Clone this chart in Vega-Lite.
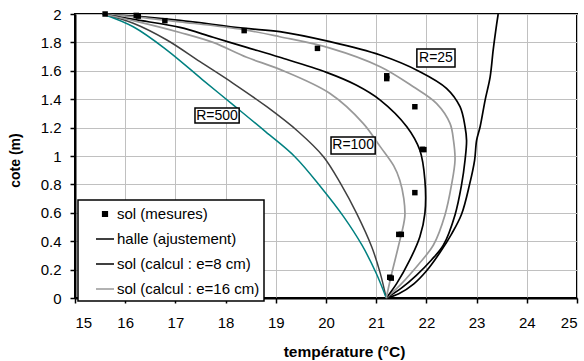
{
  "$schema": "https://vega.github.io/schema/vega-lite/v6.json",
  "width": 502,
  "height": 284,
  "autosize": {"type": "none"},
  "padding": {"left": 75, "top": 14, "right": 7, "bottom": 63},
  "background": "white",
  "config": {
    "view": {"stroke": "black", "strokeWidth": 2},
    "font": "Liberation Sans"
  },
  "datasets": {
    "curves": [
      {"c":"h","g":"halle (ajustement)","i":0,"x":21.2,"y":0},
      {"c":"h","g":"halle (ajustement)","i":1,"x":21.45,"y":0.03},
      {"c":"h","g":"halle (ajustement)","i":2,"x":21.75,"y":0.1},
      {"c":"h","g":"halle (ajustement)","i":3,"x":22.0,"y":0.19},
      {"c":"h","g":"halle (ajustement)","i":4,"x":22.27,"y":0.32},
      {"c":"h","g":"halle (ajustement)","i":5,"x":22.5,"y":0.45},
      {"c":"h","g":"halle (ajustement)","i":6,"x":22.7,"y":0.59},
      {"c":"h","g":"halle (ajustement)","i":7,"x":22.86,"y":0.8},
      {"c":"h","g":"halle (ajustement)","i":8,"x":22.96,"y":0.97},
      {"c":"h","g":"halle (ajustement)","i":9,"x":23.0,"y":1.11},
      {"c":"h","g":"halle (ajustement)","i":10,"x":23.07,"y":1.206},
      {"c":"h","g":"halle (ajustement)","i":11,"x":23.17,"y":1.394},
      {"c":"h","g":"halle (ajustement)","i":12,"x":23.27,"y":1.558},
      {"c":"h","g":"halle (ajustement)","i":13,"x":23.33,"y":1.746},
      {"c":"h","g":"halle (ajustement)","i":14,"x":23.38,"y":1.88},
      {"c":"h","g":"halle (ajustement)","i":15,"x":23.43,"y":2.0},

      {"c":"a25","g":"sol (calcul : e=8 cm)","i":0,"x":15.55,"y":2},
      {"c":"a25","g":"sol (calcul : e=8 cm)","i":1,"x":16.2,"y":1.985},
      {"c":"a25","g":"sol (calcul : e=8 cm)","i":2,"x":17.09,"y":1.955},
      {"c":"a25","g":"sol (calcul : e=8 cm)","i":3,"x":18.35,"y":1.9},
      {"c":"a25","g":"sol (calcul : e=8 cm)","i":4,"x":19.08,"y":1.876},
      {"c":"a25","g":"sol (calcul : e=8 cm)","i":5,"x":20.08,"y":1.805},
      {"c":"a25","g":"sol (calcul : e=8 cm)","i":6,"x":21.08,"y":1.711},
      {"c":"a25","g":"sol (calcul : e=8 cm)","i":7,"x":21.87,"y":1.594},
      {"c":"a25","g":"sol (calcul : e=8 cm)","i":8,"x":22.4,"y":1.477},
      {"c":"a25","g":"sol (calcul : e=8 cm)","i":9,"x":22.67,"y":1.347},
      {"c":"a25","g":"sol (calcul : e=8 cm)","i":10,"x":22.77,"y":1.206},
      {"c":"a25","g":"sol (calcul : e=8 cm)","i":11,"x":22.8,"y":1.11},
      {"c":"a25","g":"sol (calcul : e=8 cm)","i":12,"x":22.77,"y":0.972},
      {"c":"a25","g":"sol (calcul : e=8 cm)","i":13,"x":22.7,"y":0.796},
      {"c":"a25","g":"sol (calcul : e=8 cm)","i":14,"x":22.57,"y":0.585},
      {"c":"a25","g":"sol (calcul : e=8 cm)","i":15,"x":22.34,"y":0.373},
      {"c":"a25","g":"sol (calcul : e=8 cm)","i":16,"x":22.1,"y":0.268},
      {"c":"a25","g":"sol (calcul : e=8 cm)","i":17,"x":21.8,"y":0.16},
      {"c":"a25","g":"sol (calcul : e=8 cm)","i":18,"x":21.5,"y":0.07},
      {"c":"a25","g":"sol (calcul : e=8 cm)","i":19,"x":21.2,"y":0},

      {"c":"b25","g":"sol (calcul : e=16 cm)","i":0,"x":15.55,"y":2},
      {"c":"b25","g":"sol (calcul : e=16 cm)","i":1,"x":16.2,"y":1.98},
      {"c":"b25","g":"sol (calcul : e=16 cm)","i":2,"x":17.09,"y":1.945},
      {"c":"b25","g":"sol (calcul : e=16 cm)","i":3,"x":18.35,"y":1.89},
      {"c":"b25","g":"sol (calcul : e=16 cm)","i":4,"x":19.08,"y":1.84},
      {"c":"b25","g":"sol (calcul : e=16 cm)","i":5,"x":20.08,"y":1.76},
      {"c":"b25","g":"sol (calcul : e=16 cm)","i":6,"x":21.08,"y":1.629},
      {"c":"b25","g":"sol (calcul : e=16 cm)","i":7,"x":21.74,"y":1.488},
      {"c":"b25","g":"sol (calcul : e=16 cm)","i":8,"x":22.2,"y":1.371},
      {"c":"b25","g":"sol (calcul : e=16 cm)","i":9,"x":22.47,"y":1.23},
      {"c":"b25","g":"sol (calcul : e=16 cm)","i":10,"x":22.54,"y":1.11},
      {"c":"b25","g":"sol (calcul : e=16 cm)","i":11,"x":22.57,"y":0.972},
      {"c":"b25","g":"sol (calcul : e=16 cm)","i":12,"x":22.5,"y":0.796},
      {"c":"b25","g":"sol (calcul : e=16 cm)","i":13,"x":22.37,"y":0.585},
      {"c":"b25","g":"sol (calcul : e=16 cm)","i":14,"x":22.14,"y":0.373},
      {"c":"b25","g":"sol (calcul : e=16 cm)","i":15,"x":21.85,"y":0.24},
      {"c":"b25","g":"sol (calcul : e=16 cm)","i":16,"x":21.5,"y":0.1},
      {"c":"b25","g":"sol (calcul : e=16 cm)","i":17,"x":21.2,"y":0},

      {"c":"a100","g":"sol (calcul : e=8 cm)","i":0,"x":15.55,"y":2},
      {"c":"a100","g":"sol (calcul : e=8 cm)","i":1,"x":16.2,"y":1.96},
      {"c":"a100","g":"sol (calcul : e=8 cm)","i":2,"x":17.09,"y":1.906},
      {"c":"a100","g":"sol (calcul : e=8 cm)","i":3,"x":17.75,"y":1.836},
      {"c":"a100","g":"sol (calcul : e=8 cm)","i":4,"x":18.42,"y":1.765},
      {"c":"a100","g":"sol (calcul : e=8 cm)","i":5,"x":19.08,"y":1.695},
      {"c":"a100","g":"sol (calcul : e=8 cm)","i":6,"x":20.01,"y":1.589},
      {"c":"a100","g":"sol (calcul : e=8 cm)","i":7,"x":20.6,"y":1.5},
      {"c":"a100","g":"sol (calcul : e=8 cm)","i":8,"x":21.08,"y":1.394},
      {"c":"a100","g":"sol (calcul : e=8 cm)","i":9,"x":21.61,"y":1.206},
      {"c":"a100","g":"sol (calcul : e=8 cm)","i":10,"x":21.87,"y":1.04},
      {"c":"a100","g":"sol (calcul : e=8 cm)","i":11,"x":21.97,"y":0.83},
      {"c":"a100","g":"sol (calcul : e=8 cm)","i":12,"x":21.97,"y":0.596},
      {"c":"a100","g":"sol (calcul : e=8 cm)","i":13,"x":21.87,"y":0.432},
      {"c":"a100","g":"sol (calcul : e=8 cm)","i":14,"x":21.67,"y":0.268},
      {"c":"a100","g":"sol (calcul : e=8 cm)","i":15,"x":21.41,"y":0.103},
      {"c":"a100","g":"sol (calcul : e=8 cm)","i":16,"x":21.2,"y":0},

      {"c":"b100","g":"sol (calcul : e=16 cm)","i":0,"x":15.55,"y":2},
      {"c":"b100","g":"sol (calcul : e=16 cm)","i":1,"x":16.2,"y":1.95},
      {"c":"b100","g":"sol (calcul : e=16 cm)","i":2,"x":17.09,"y":1.87},
      {"c":"b100","g":"sol (calcul : e=16 cm)","i":3,"x":17.75,"y":1.8},
      {"c":"b100","g":"sol (calcul : e=16 cm)","i":4,"x":18.42,"y":1.695},
      {"c":"b100","g":"sol (calcul : e=16 cm)","i":5,"x":19.08,"y":1.61},
      {"c":"b100","g":"sol (calcul : e=16 cm)","i":6,"x":20.08,"y":1.44},
      {"c":"b100","g":"sol (calcul : e=16 cm)","i":7,"x":20.74,"y":1.23},
      {"c":"b100","g":"sol (calcul : e=16 cm)","i":8,"x":21.08,"y":1.066},
      {"c":"b100","g":"sol (calcul : e=16 cm)","i":9,"x":21.35,"y":0.93},
      {"c":"b100","g":"sol (calcul : e=16 cm)","i":10,"x":21.47,"y":0.83},
      {"c":"b100","g":"sol (calcul : e=16 cm)","i":11,"x":21.55,"y":0.7},
      {"c":"b100","g":"sol (calcul : e=16 cm)","i":12,"x":21.57,"y":0.573},
      {"c":"b100","g":"sol (calcul : e=16 cm)","i":13,"x":21.44,"y":0.361},
      {"c":"b100","g":"sol (calcul : e=16 cm)","i":14,"x":21.31,"y":0.174},
      {"c":"b100","g":"sol (calcul : e=16 cm)","i":15,"x":21.2,"y":0},

      {"c":"a500","g":"autre","i":0,"x":15.55,"y":2},
      {"c":"a500","g":"autre","i":1,"x":16.16,"y":1.935},
      {"c":"a500","g":"autre","i":2,"x":16.83,"y":1.817},
      {"c":"a500","g":"autre","i":3,"x":17.49,"y":1.664},
      {"c":"a500","g":"autre","i":4,"x":18.15,"y":1.512},
      {"c":"a500","g":"autre","i":5,"x":18.82,"y":1.347},
      {"c":"a500","g":"autre","i":6,"x":19.45,"y":1.171},
      {"c":"a500","g":"autre","i":7,"x":19.95,"y":0.995},
      {"c":"a500","g":"autre","i":8,"x":20.3,"y":0.8},
      {"c":"a500","g":"autre","i":9,"x":20.61,"y":0.596},
      {"c":"a500","g":"autre","i":10,"x":20.91,"y":0.361},
      {"c":"a500","g":"autre","i":11,"x":21.08,"y":0.175},
      {"c":"a500","g":"autre","i":12,"x":21.2,"y":0},

      {"c":"b500","g":"autre","i":0,"x":15.55,"y":2},
      {"c":"b500","g":"autre","i":1,"x":16.16,"y":1.91},
      {"c":"b500","g":"autre","i":2,"x":16.83,"y":1.746},
      {"c":"b500","g":"autre","i":3,"x":17.53,"y":1.54},
      {"c":"b500","g":"autre","i":4,"x":18.15,"y":1.36},
      {"c":"b500","g":"autre","i":5,"x":18.8,"y":1.17},
      {"c":"b500","g":"autre","i":6,"x":19.38,"y":0.995},
      {"c":"b500","g":"autre","i":7,"x":19.9,"y":0.78},
      {"c":"b500","g":"autre","i":8,"x":20.35,"y":0.573},
      {"c":"b500","g":"autre","i":9,"x":20.72,"y":0.37},
      {"c":"b500","g":"autre","i":10,"x":21.0,"y":0.174},
      {"c":"b500","g":"autre","i":11,"x":21.2,"y":0}
    ],
    "mesures": [
      {"g":"sol (mesures)","x":15.6,"y":2.0},
      {"g":"sol (mesures)","x":16.22,"y":1.99},
      {"g":"sol (mesures)","x":16.26,"y":1.985},
      {"g":"sol (mesures)","x":16.79,"y":1.953},
      {"g":"sol (mesures)","x":18.37,"y":1.883},
      {"g":"sol (mesures)","x":19.83,"y":1.758},
      {"g":"sol (mesures)","x":21.21,"y":1.545},
      {"g":"sol (mesures)","x":21.21,"y":1.565},
      {"g":"sol (mesures)","x":21.77,"y":1.347},
      {"g":"sol (mesures)","x":21.92,"y":1.047},
      {"g":"sol (mesures)","x":21.95,"y":1.045},
      {"g":"sol (mesures)","x":21.77,"y":0.742},
      {"g":"sol (mesures)","x":21.45,"y":0.448},
      {"g":"sol (mesures)","x":21.5,"y":0.448},
      {"g":"sol (mesures)","x":21.27,"y":0.146},
      {"g":"sol (mesures)","x":21.3,"y":0.14}
    ],
    "etiquettes": [
      {"t":"R=25","x":22.19,"y":1.69,"x1":21.81,"x2":22.57,"y1":1.627,"y2":1.754},
      {"t":"R=100","x":20.54,"y":1.074,"x1":20.1,"x2":20.98,"y1":1.014,"y2":1.134},
      {"t":"R=500","x":17.83,"y":1.285,"x1":17.39,"x2":18.27,"y1":1.232,"y2":1.338}
    ]
  },
  "encoding": {
    "x": {
      "field": "x", "type": "quantitative",
      "scale": {"domain": [15, 25], "nice": false},
      "axis": {
        "values": [15,16,17,18,19,20,21,22,23,24,25],
        "title": "température (°C)",
        "grid": true, "gridColor": "#c0c0c0", "gridWidth": 1,
        "domainColor": "black", "domainWidth": 2,
        "tickColor": "black", "tickWidth": 1.5, "tickSize": 5,
        "labelFontSize": 15, "labelColor": "black", "labelPadding": 12,
        "labelFont": "Liberation Sans",
        "titleFont": "Liberation Sans", "titleFontSize": 15.5, "titleFontWeight": "bold", "titleColor": "black",
        "titleX": 269, "titleY": 53, "titleBaseline": "middle", "titleAlign": "center"
      }
    },
    "y": {
      "field": "y", "type": "quantitative",
      "scale": {"domain": [0, 2], "nice": false},
      "axis": {
        "values": [0,0.2,0.4,0.6,0.8,1,1.2,1.4,1.6,1.8,2],
        "format": "~g",
        "title": "cote (m)",
        "grid": true, "gridColor": "#c0c0c0", "gridWidth": 1,
        "domainColor": "black", "domainWidth": 2,
        "tickColor": "black", "tickWidth": 1.5, "tickSize": 5,
        "labelFontSize": 15, "labelColor": "black", "labelPadding": 9,
        "labelFont": "Liberation Sans",
        "titleFont": "Liberation Sans", "titleFontSize": 14, "titleFontWeight": "bold", "titleColor": "black",
        "titleX": -60, "titleY": 146, "titleBaseline": "middle", "titleAlign": "center", "titleAngle": 270
      }
    }
  },
  "layer": [
    {
      "data": {"name": "curves"},
      "transform": [{"filter": "datum.c === 'a500'"}],
      "mark": {"type": "line", "color": "#404040", "strokeWidth": 1.5, "interpolate": "catmull-rom"},
      "encoding": {"detail": {"field": "c"}, "order": {"field": "i", "type": "quantitative"}}
    },
    {
      "data": {"name": "curves"},
      "transform": [{"filter": "datum.c === 'b500'"}],
      "mark": {"type": "line", "color": "#008080", "strokeWidth": 1.5, "interpolate": "catmull-rom"},
      "encoding": {"detail": {"field": "c"}, "order": {"field": "i", "type": "quantitative"}}
    },
    {
      "data": {"name": "curves"},
      "transform": [{"filter": "datum.g !== 'autre'"}],
      "mark": {"type": "line", "strokeWidth": 1.7, "interpolate": "catmull-rom"},
      "encoding": {
        "detail": {"field": "c"},
        "order": {"field": "i", "type": "quantitative"},
        "color": {
          "field": "g", "type": "nominal",
          "scale": {
            "domain": ["sol (mesures)", "halle (ajustement)", "sol (calcul : e=8 cm)", "sol (calcul : e=16 cm)"],
            "range": ["black", "black", "black", "#999999"]
          },
          "legend": {
            "orient": "none", "legendX": 3, "legendY": 186, "title": null,
            "labelFontSize": 15, "labelFont": "Liberation Sans", "labelColor": "black",
            "padding": 4, "rowPadding": 7, "symbolOffset": 13, "labelOffset": 2,
            "strokeColor": "black", "fillColor": "white",
            "symbolSize": 324, "symbolStrokeWidth": 1.5,
            "encode": {
              "symbols": {"update": {
                "shape": {"signal": "datum.value === 'sol (mesures)' ? 'square' : 'stroke'"},
                "size": {"signal": "datum.value === 'sol (mesures)' ? 22 : 324"},
                "fill": {"signal": "datum.value === 'sol (mesures)' ? 'black' : 'transparent'"},
                "stroke": {"signal": "datum.value === 'sol (calcul : e=16 cm)' ? '#999999' : 'black'"},
                "strokeWidth": {"value": 1.5},
                "opacity": {"value": 1}
              }},
              "legend": {"update": {"strokeWidth": {"value": 1.5}}}
            }
          }
        }
      }
    },
    {
      "data": {"name": "mesures"},
      "mark": {"type": "point", "shape": "square", "filled": true, "size": 30, "opacity": 1},
      "encoding": {
        "color": {"field": "g", "type": "nominal"}
      }
    },
    {
      "data": {"name": "etiquettes"},
      "mark": {"type": "rect", "fill": "white", "stroke": "black", "strokeWidth": 1.5},
      "encoding": {
        "x": {"field": "x1", "type": "quantitative"},
        "x2": {"field": "x2"},
        "y": {"field": "y1", "type": "quantitative"},
        "y2": {"field": "y2"}
      }
    },
    {
      "data": {"name": "etiquettes"},
      "mark": {"type": "text", "fontSize": 14, "font": "Liberation Sans", "color": "black", "align": "center", "baseline": "middle"},
      "encoding": {
        "text": {"field": "t"}
      }
    }
  ]
}
